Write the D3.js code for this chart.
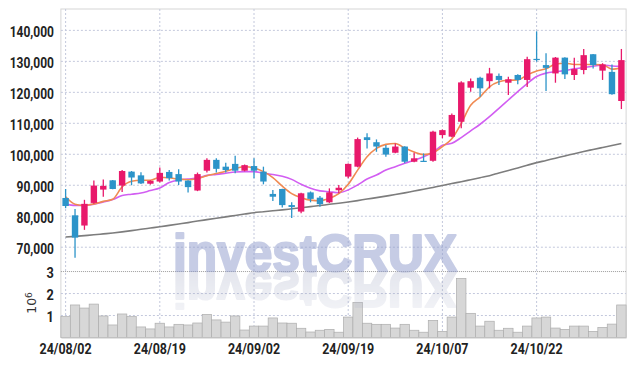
<!DOCTYPE html>
<html><head><meta charset="utf-8">
<script src="https://cdn.jsdelivr.net/npm/d3@7"></script>
<style>
body{margin:0;background:#fff;}
svg{display:block;}
</style></head>
<body>
<svg id="c" width="634" height="366"></svg>
<script>
const dates = ["24/08/02","24/08/05","24/08/06","24/08/07","24/08/08","24/08/09","24/08/12","24/08/13","24/08/14","24/08/16",
"24/08/19","24/08/20","24/08/21","24/08/22","24/08/23","24/08/26","24/08/27","24/08/28","24/08/29","24/08/30",
"24/09/02","24/09/03","24/09/04","24/09/05","24/09/06","24/09/09","24/09/10","24/09/11","24/09/12","24/09/13",
"24/09/19","24/09/20","24/09/23","24/09/24","24/09/25","24/09/26","24/09/27","24/09/30","24/10/02","24/10/04",
"24/10/07","24/10/08","24/10/10","24/10/11","24/10/14","24/10/15","24/10/16","24/10/17","24/10/18","24/10/21",
"24/10/22","24/10/23","24/10/24","24/10/25","24/10/28","24/10/29","24/10/30","24/10/31","24/11/01","24/11/04"];
const openP = [85900,80300,77000,84300,88600,91600,89900,94400,93200,90500,
91200,94300,93600,91500,88300,94700,98200,96000,96900,94700,
96200,94400,87200,88800,83600,81500,87700,86000,84500,88400,
92800,96000,105500,103900,102100,100500,102500,97600,97900,97900,
106200,105700,110500,121500,124700,123600,125300,123100,125600,124000,
130800,128800,126100,131200,125600,127200,132300,127000,126600,117200];
const highP = [88800,82300,85300,91500,91900,91700,94900,94600,94200,91600,
95700,94900,95200,91600,94100,98700,98700,97300,99500,96700,
98700,96000,88500,88900,84500,87600,88000,86500,89000,90100,
97000,105400,106800,104800,103000,103500,102600,100500,100300,107600,
108000,113200,123600,124500,125000,127900,126100,125000,125800,131500,
139700,132600,131400,131300,131200,134000,132400,129400,129000,134000];
const lowP = [82600,66600,75600,84000,86300,88700,87800,90000,90400,90200,
90900,91500,90100,87700,88100,94100,94100,94100,93900,94500,
92300,90300,84900,82800,79400,81000,84500,83100,84300,87400,
92300,95800,101900,100800,99200,100300,97100,97400,97600,97600,
105200,105500,108400,120200,118600,121300,122400,119100,122600,121700,
129900,120400,123100,124300,124000,125800,127700,124000,119200,114600];
const closeP = [83300,73100,84000,89900,89800,88800,94600,92500,90600,91400,
94000,92300,91200,89400,93600,98200,95300,94900,94700,96500,
94700,91200,86300,83600,83000,87400,85600,83900,87700,89200,
96900,104900,104600,102500,99900,102500,97600,98700,97800,107300,
107800,112700,123200,123600,121300,126100,124000,124200,124000,130700,
130600,127900,131200,125800,127500,132000,128800,129000,119400,130400];
const volume = [0.95,1.48,1.34,1.52,0.98,0.57,1.07,0.95,0.48,0.39,
0.65,0.48,0.60,0.57,0.66,1.05,0.80,0.70,0.98,0.34,
0.52,0.52,0.89,0.66,0.65,0.42,0.25,0.33,0.37,0.24,
0.93,1.60,0.65,0.60,0.60,0.43,0.60,0.33,0.24,0.78,
0.28,0.93,2.69,1.10,0.52,0.74,0.33,0.42,0.24,0.52,
0.89,0.93,0.43,0.37,0.52,0.52,0.28,0.46,0.61,1.48];
const ma5 = [86300,83900,83500,84000,84800,85500,89500,91300,91600,91600,
92600,92400,92000,91800,92200,93100,93800,94500,95400,96000,
95600,94400,92500,89700,87300,86000,85200,85000,85800,87300,
90300,94900,99200,101900,103200,103500,102000,100700,99900,100500,
102500,105000,110000,115800,118500,121800,123400,123900,124000,125600,
126900,127600,129100,129400,129000,129000,129000,128900,127500,127900];
const ma10 = [83900,83500,83500,83900,84600,85400,86700,87100,87500,88300,
89100,90900,91700,92000,92300,93200,93500,93900,94300,94400,
94400,93900,93500,92900,91900,90300,89000,88200,87900,87600,
88500,90100,92000,93300,94900,96000,97100,98100,99200,100700,
102900,103550,105400,107550,109700,112130,114840,117520,120200,122800,
125100,126200,126650,127000,127600,128000,128400,128800,128500,128400];
const maLong = [73300,73500,73750,74000,74300,74600,74950,75350,75800,76200,
76600,77050,77500,77950,78450,78900,79350,79800,80250,80700,
81150,81450,81750,82050,82400,82750,83100,83450,83850,84200,
84600,85050,85550,86000,86500,87000,87550,88150,88700,89300,
89900,90550,91150,91800,92450,93100,93950,94750,95600,96450,
97300,98000,98750,99450,100200,100900,101550,102200,102850,103500];
const priceTicks = [70000,80000,90000,100000,110000,120000,130000,140000];
const volTicks = [1,2,3];
const dateTicks = ["24/08/02","24/08/19","24/09/02","24/09/19","24/10/07","24/10/22"];

const L=60.9, R=626.1, T=9, PB=272, VB=337.5;
const UP="#e8196b", DOWN="#2c94c9";
const svg = d3.select("#c");
const x = d3.scaleBand().domain(dates).range([L,R]).padding(0);
const y = d3.scaleLinear().domain([62000,146900]).range([PB,T]);
const yv = d3.scaleLinear().domain([0,2.98]).range([VB,PB]);
const cx = d => x(d) + x.bandwidth()/2;
const fontAx = "Roboto,'DejaVu Sans',sans-serif";
function squeeze(sel, k){
  sel.each(function(){
    const w = this.getComputedTextLength();
    d3.select(this).attr("textLength", w*k).attr("lengthAdjust","spacingAndGlyphs");
  });
}

// frame
svg.append("rect").attr("x",L).attr("y",T).attr("width",R-L).attr("height",VB-T)
  .attr("fill","#fff").attr("stroke","#d6d6d6").attr("stroke-width",1);

// grids
const grid = svg.append("g").attr("stroke","#c3c8dc").attr("stroke-width",1).attr("stroke-dasharray","2,2");
grid.selectAll("line.h").data(priceTicks).join("line")
  .attr("x1",L).attr("x2",R).attr("y1",d=>y(d)).attr("y2",d=>y(d));
grid.selectAll("line.v").data(volTicks.filter(v=>v<3)).join("line")
  .attr("x1",L).attr("x2",R).attr("y1",d=>yv(d)).attr("y2",d=>yv(d));
grid.selectAll("line.x").data(dateTicks).join("line")
  .attr("x1",d=>cx(d)).attr("x2",d=>cx(d)).attr("y1",T).attr("y2",VB);
svg.append("line").attr("x1",L).attr("x2",R).attr("y1",yv(3)).attr("y2",yv(3))
  .attr("stroke","#9a9a9a").attr("stroke-width",1).attr("stroke-dasharray","1,1");

// volume bars
svg.append("g").selectAll("rect").data(dates).join("rect")
  .attr("x",d=>x(d)).attr("width",x.bandwidth())
  .attr("y",(d,i)=>yv(volume[i])).attr("height",(d,i)=>VB-yv(volume[i]))
  .attr("fill","#d7d7d7").attr("stroke","#adadad").attr("stroke-width",0.7);

// watermark
const defs = svg.append("defs");
const grad = defs.append("linearGradient").attr("id","fade").attr("x1",0).attr("y1",0).attr("x2",0).attr("y2",1);
grad.append("stop").attr("offset","0").attr("stop-color","#fff").attr("stop-opacity",1);
grad.append("stop").attr("offset","1").attr("stop-color","#fff").attr("stop-opacity",0.35);
const mask = defs.append("mask").attr("id","refmask");
mask.append("rect").attr("x",0).attr("y",271).attr("width",634).attr("height",48).attr("fill","url(#fade)");
const wmFont = "'Liberation Sans',Arial,sans-serif";
const wm1 = svg.append("g").attr("opacity",0.5);
wm1.append("text").attr("x",173).attr("y",271).text("investCRUX")
  .attr("font-family",wmFont).attr("font-weight","bold").attr("font-size",51)
  .attr("fill","#8f9bcc").attr("stroke","#8f9bcc").attr("stroke-width",2.2).attr("stroke-linejoin","round")
  .attr("textLength",284).attr("lengthAdjust","spacingAndGlyphs");
const wm2 = svg.append("g").attr("mask","url(#refmask)").append("g").attr("opacity",0.3);
wm2.append("text").attr("transform","translate(0,542) scale(1,-1)")
  .attr("x",173).attr("y",271).text("investCRUX")
  .attr("font-family",wmFont).attr("font-weight","bold").attr("font-size",51)
  .attr("fill","#a3a8c4").attr("stroke","#a3a8c4").attr("stroke-width",2.2).attr("stroke-linejoin","round")
  .attr("textLength",284).attr("lengthAdjust","spacingAndGlyphs");

// moving averages
const line = arr => d3.line().x((d,i)=>cx(dates[i])).y(d=>y(d)).curve(d3.curveMonotoneX)(arr);
svg.append("path").attr("d",line(maLong)).attr("fill","none").attr("stroke","#7d7d7d").attr("stroke-width",1.6);
svg.append("path").attr("d",line(ma10)).attr("fill","none").attr("stroke","#d25ef2").attr("stroke-width",1.6);
svg.append("path").attr("d",line(ma5)).attr("fill","none").attr("stroke","#f08a52").attr("stroke-width",1.6);

// candles
const cg = svg.append("g").selectAll("g").data(dates).join("g");
const col = i => closeP[i] >= openP[i] ? UP : DOWN;
cg.append("line").attr("x1",d=>cx(d)).attr("x2",d=>cx(d))
  .attr("y1",(d,i)=>y(highP[i])).attr("y2",(d,i)=>y(lowP[i]))
  .attr("stroke",(d,i)=>col(i)).attr("stroke-width",1.3);
const bw = x.bandwidth()*0.68;
cg.append("rect").attr("x",d=>cx(d)-bw/2).attr("width",bw)
  .attr("y",(d,i)=>y(Math.max(openP[i],closeP[i])))
  .attr("height",(d,i)=>Math.max(1.2, Math.abs(y(openP[i])-y(closeP[i]))))
  .attr("fill",(d,i)=>col(i));

// axes
const ax = svg.append("g").attr("transform",`translate(${L},0)`)
  .call(d3.axisLeft(y).tickValues(priceTicks).tickSize(0).tickPadding(7).tickFormat(d3.format(",")));
ax.select(".domain").remove();
ax.selectAll("text").attr("font-family",fontAx).attr("font-weight","bold").attr("font-size",15)
  .attr("fill","#222").attr("dy","0.4em").call(squeeze,0.8);
const axv = svg.append("g").attr("transform",`translate(${L},0)`)
  .call(d3.axisLeft(yv).tickValues(volTicks).tickSize(0).tickPadding(7).tickFormat(d3.format("d")));
axv.select(".domain").remove();
axv.selectAll("text").attr("font-family",fontAx).attr("font-weight","bold").attr("font-size",15)
  .attr("fill","#222").attr("dy","0.4em").call(squeeze,0.85);
const axx = svg.append("g").attr("transform",`translate(0,${VB})`)
  .call(d3.axisBottom(x).tickValues(dateTicks).tickSize(0).tickPadding(6));
axx.select(".domain").attr("stroke","#c8c8c8");
axx.selectAll("text").attr("font-family",fontAx).attr("font-weight","bold").attr("font-size",15).attr("fill","#222")
  .call(squeeze,0.83);

// 10^6 label
const lab = svg.append("text").attr("transform","translate(36,303) rotate(-90)")
  .attr("text-anchor","middle").attr("font-family","'DejaVu Sans',sans-serif").attr("font-size",12.5).attr("fill","#333");
lab.append("tspan").text("10");
lab.append("tspan").attr("dy","-0.45em").attr("font-size",9).text("6");
</script>
</body></html>
